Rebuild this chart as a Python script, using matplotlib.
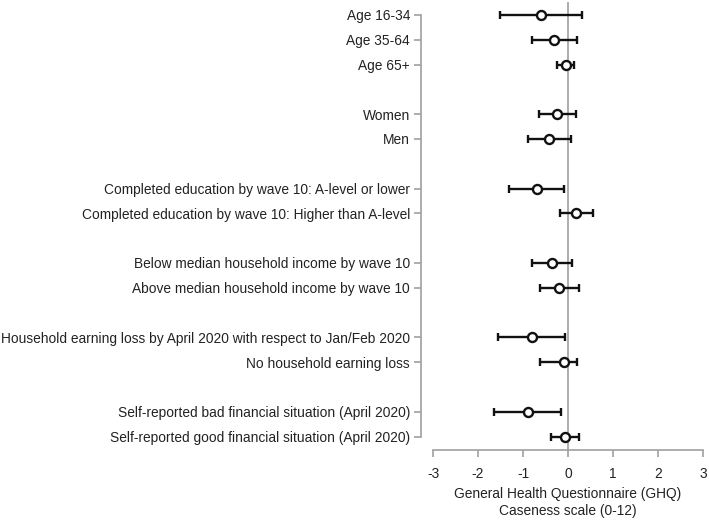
import numpy as np
import matplotlib.pyplot as plt

plt.rcParams['font.family'] = ['Liberation Sans', 'DejaVu Sans']

# Row labels (top to bottom) and their row slots (blank slot between groups)
labels = [
    'Age 16-34', 'Age 35-64', 'Age 65+',
    'Women', 'Men',
    'Completed education by wave 10: A-level or lower',
    'Completed education by wave 10: Higher than A-level',
    'Below median household income by wave 10',
    'Above median household income by wave 10',
    'Household earning loss by April 2020 with respect to Jan/Feb 2020',
    'No household earning loss',
    'Self-reported bad financial situation (April 2020)',
    'Self-reported good financial situation (April 2020)',
]
rows = [0, 1, 2, 4, 5, 7, 8, 10, 11, 13, 14, 16, 17]

# Point estimates and 95% CI bounds
est = [-0.60, -0.31, -0.05, -0.24, -0.42, -0.70, 0.18, -0.36, -0.19, -0.81, -0.10, -0.90, -0.07]
lo = [-1.51, -0.79, -0.25, -0.64, -0.90, -1.31, -0.18, -0.81, -0.62, -1.56, -0.62, -1.64, -0.38]
hi = [0.30, 0.19, 0.14, 0.18, 0.07, -0.09, 0.55, 0.09, 0.24, -0.07, 0.21, -0.16, 0.25]

x_ticks = [-3, -2, -1, 0, 1, 2, 3]

est = np.array(est)
err = np.vstack([est - np.array(lo), np.array(hi) - est])

fig = plt.figure(figsize=(7.09, 5.20), dpi=100)
ax = fig.add_axes([421 / 709, 70 / 520, 288 / 709, 448 / 520])

gray = '#a0a0a0'
ax.axvline(0, color=gray, lw=1.2, zorder=1)
ax.errorbar(est, rows, xerr=err, fmt='o', color='#111111', ecolor='#111111',
            elinewidth=1.7, capsize=3, capthick=1.7, markersize=6.5,
            markerfacecolor='white', markeredgewidth=1.7, zorder=3)

ax.set_xlim(-3.267, 3.133)
ax.set_ylim(17.54, -0.52)
ax.set_yticks(rows)
ax.set_yticklabels(labels)
ax.set_xticks(x_ticks)
ax.set_xticklabels([str(t) for t in x_ticks])

for s in ['top', 'right']:
    ax.spines[s].set_visible(False)
ax.spines['left'].set_bounds(0, 17)
ax.spines['bottom'].set_bounds(-3, 3)
for s in ['left', 'bottom']:
    ax.spines[s].set_color(gray)
    ax.spines[s].set_linewidth(1.2)

ax.tick_params(axis='both', colors=gray, labelcolor='#222222', labelsize=9.9,
               length=5, width=1.2)
ax.tick_params(axis='y', pad=3)
ax.tick_params(axis='x', pad=7)

ax.set_xlabel('General Health Questionnaire (GHQ)\nCaseness scale (0-12)',
              fontsize=9.9, color='#222222', linespacing=1.3)
ax.xaxis.set_label_coords((568 - 421) / 288, -0.082)

fig.savefig('out.png', dpi=100)
